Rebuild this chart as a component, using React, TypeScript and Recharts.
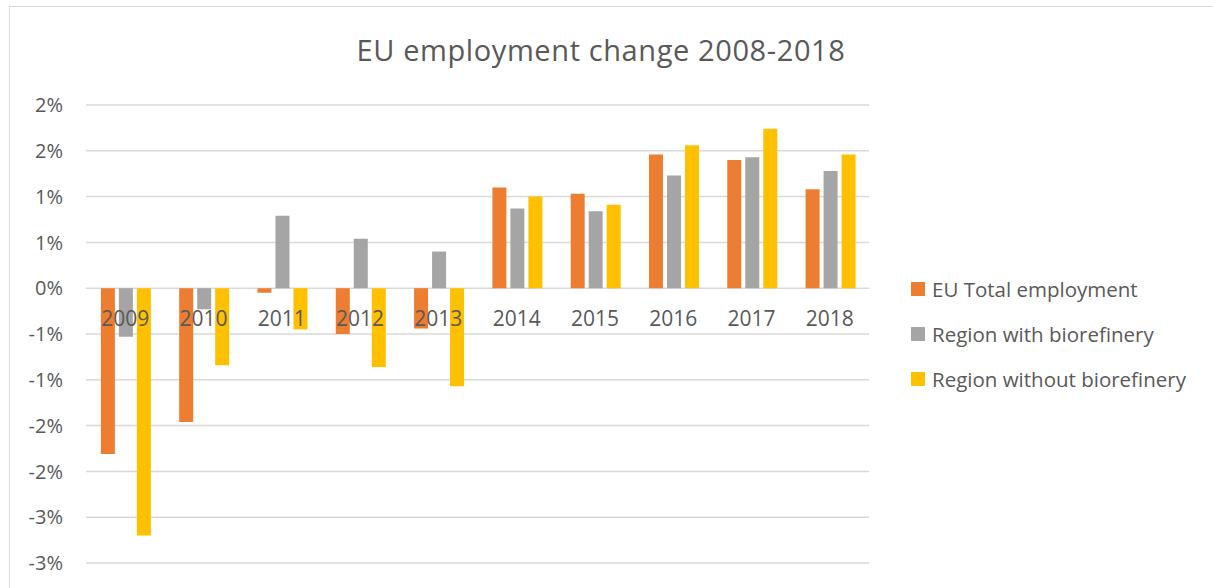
import { Bar, BarChart, CartesianGrid, Legend, ReferenceDot, XAxis, YAxis } from "recharts"

const years = ["2009", "2010", "2011", "2012", "2013", "2014", "2015", "2016", "2017", "2018"]
const euTotal = [-1.81, -1.46, -0.05, -0.5, -0.44, 1.1, 1.03, 1.46, 1.4, 1.08]
const withBiorefinery = [-0.53, -0.23, 0.79, 0.54, 0.4, 0.87, 0.84, 1.23, 1.43, 1.28]
const withoutBiorefinery = [-2.7, -0.84, -0.45, -0.86, -1.07, 1.0, 0.91, 1.56, 1.74, 1.46]

const yTicks = [-3, -2.5, -2, -1.5, -1, -0.5, 0, 0.5, 1, 1.5, 2]
const yTickLabels = ["-3%", "-3%", "-2%", "-2%", "-1%", "-1%", "0%", "1%", "1%", "2%", "2%"]

const data = years.map((year, i) => ({
  year,
  eu: euTotal[i],
  withBio: withBiorefinery[i],
  withoutBio: withoutBiorefinery[i],
}))

const textColor = "#595959"
const font = "'Open Sans', sans-serif"

function LegendList(props: any) {
  const items = props.payload || []
  return (
    <div style={{ paddingLeft: 42, fontFamily: font }}>
      {items.map((item: any) => (
        <div
          key={item.value}
          style={{ display: "flex", alignItems: "center", height: 45, color: textColor, fontSize: 20.5, whiteSpace: "nowrap" }}
        >
          <span style={{ display: "inline-block", width: 14, height: 14, background: item.color, marginRight: 7, flexShrink: 0 }} />
          {item.value}
        </div>
      ))}
    </div>
  )
}

export default function App() {
  return (
    <>
      <style>{"body{margin:0;overflow:hidden}"}</style>
      <div
        style={{
          position: "absolute",
          left: 9,
          top: 6,
          width: 1230,
          height: 600,
          border: "1px solid #d9d9d9",
          background: "#fff",
          fontFamily: font,
        }}
      >
        <div
          style={{
            position: "absolute",
            left: 0,
            top: 25,
            width: 1182,
            textAlign: "center",
            fontSize: 29,
            letterSpacing: 0.6,
            lineHeight: "36px",
            color: textColor,
          }}
        >
          EU employment change 2008-2018
        </div>
        <BarChart
          width={1203}
          height={580}
          data={data}
          margin={{ top: 98, right: 0, bottom: 24, left: 0 }}
          barCategoryGap="19%"
          barGap={4}
        >
          <CartesianGrid vertical={false} stroke="#d9d9d9" strokeWidth={1.5} />
          <XAxis dataKey="year" hide />
          <YAxis
            width={76}
            domain={[-3, 2]}
            ticks={yTicks}
            interval={0}
            axisLine={false}
            tickLine={false}
            tickSize={0}
            tickMargin={23}
            tick={{ fill: textColor, fontSize: 20 }}
            tickFormatter={(v: number) => yTickLabels[yTicks.indexOf(v)]}
          />
          <Legend
            layout="vertical"
            align="right"
            verticalAlign="top"
            content={<LegendList />}
            wrapperStyle={{ width: 344, top: 259, right: 0 }}
          />
          <Bar dataKey="eu" name="EU Total employment" fill="#ED7D31" isAnimationActive={false} />
          <Bar dataKey="withBio" name="Region with biorefinery" fill="#A5A5A5" isAnimationActive={false} />
          <Bar dataKey="withoutBio" name="Region without biorefinery" fill="#FFC000" isAnimationActive={false} />
          {years.map((year) => (
            <ReferenceDot
              key={year}
              x={year}
              y={0}
              r={0}
              fill="none"
              stroke="none"
              label={{ value: year, position: "bottom", offset: 23, fill: textColor, fontSize: 21 }}
            />
          ))}
        </BarChart>
      </div>
    </>
  )
}
